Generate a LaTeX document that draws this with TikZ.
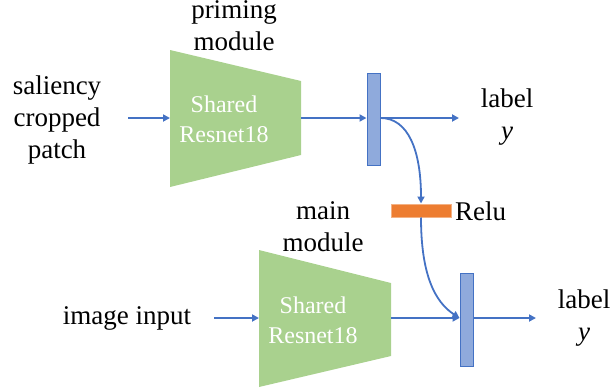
\documentclass[tikz,border=0pt]{standalone}
\usepackage{fontspec}
\setmainfont{Liberation Serif}
\usetikzlibrary{arrows.meta}
\definecolor{encgreen}{HTML}{A9D18E}
\definecolor{barfill}{HTML}{8FAADC}
\definecolor{barline}{HTML}{4472C4}
\definecolor{arrowblue}{HTML}{4472C4}
\definecolor{relufill}{HTML}{ED7D31}
\definecolor{reluline}{HTML}{F4B183}
\tikzset{
  x=1pt, y=1pt,
  lbl/.style={align=center, inner sep=0pt, font=\fontsize{27}{32}\selectfont},
  enctext/.style={align=center, inner sep=0pt, text=white, font=\fontsize{24}{30}\selectfont},
  trap/.style={fill=encgreen, draw=none},
  featbar/.style={draw=barline, fill=barfill, line width=1pt, minimum width=13pt, minimum height=92pt, inner sep=0pt},
  relubar/.style={draw=reluline, fill=relufill, line width=1pt, minimum width=60pt, minimum height=13pt, inner sep=0pt},
  conn/.style={draw=arrowblue, line width=1.8pt, -{Triangle[length=7pt,width=7pt]}}
}
\begin{document}
\begin{tikzpicture}
\useasboundingbox (0,0) rectangle (613,-391);
% top branch
\node[lbl] (sal) at (57,-120) {saliency\\cropped\\patch};
\node[lbl] (prim) at (234,-26) {priming\\module};
\path[trap] (170,-50) -- (301,-81) -- (301,-155) -- (170,-187) -- cycle;
\node[enctext] (enc1) at (224,-119) {Shared\\Resnet18};
\coordinate (in1) at (128,-118);
\coordinate (e1in) at (170,-118);
\coordinate (e1out) at (301,-118);
\node[featbar] (b1) at (373.5,-119) {};
\coordinate (o1) at (459,-118);
\node[lbl] (lab1) at (507,-117) {label\\\textit{y}};
\node[relubar] (relu) at (421,-210.5) {};
\node[lbl, anchor=west] (relut) at (455,-211) {Relu};
% bottom branch
\node[lbl] (img) at (127,-318) {image input};
\node[lbl] (mainm) at (323,-227) {main\\module};
\path[trap] (259,-250) -- (391,-283) -- (391,-356) -- (259,-387) -- cycle;
\node[enctext] (enc2) at (313,-320) {Shared\\Resnet18};
\coordinate (in2) at (214,-318);
\coordinate (e2in) at (259,-318);
\coordinate (e2out) at (391,-318);
\node[featbar, minimum height=93pt] (b2) at (466.5,-319.5) {};
\coordinate (o2) at (536,-318);
\node[lbl] (lab2) at (584,-318) {label\\\textit{y}};
% connectors
\draw[conn] (in1) -- (e1in);
\draw[conn] (e1out) -- (e1out -| b1.west);
\draw[conn] (b1.east |- o1) -- (o1);
\draw[conn] (b1.east |- o1) .. controls (408,-118) and (421,-150) .. (relu.north);
\draw[conn] (in2) -- (e2in);
\draw[conn] (e2out) -- (e2out -| b2.west);
\draw[conn] (b2.east |- o2) -- (o2);
\draw[conn] (relu.south) .. controls (421,-275) and (435,-302) .. (e2out -| b2.west);
\end{tikzpicture}
\end{document}
